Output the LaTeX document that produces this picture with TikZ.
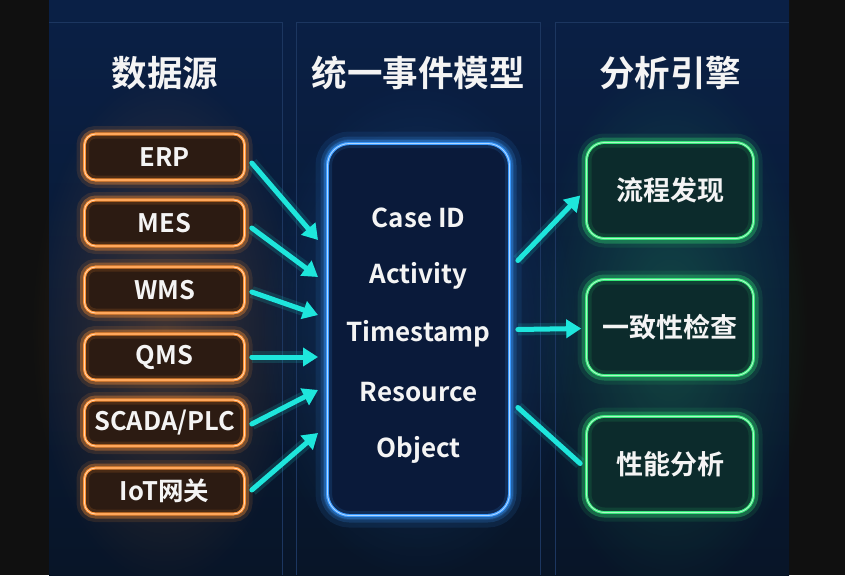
\documentclass[tikz,border=0pt]{standalone}
\usepackage{fontspec}
\setmainfont{Noto Sans CJK SC}[BoldFont={Noto Sans CJK SC Bold}]
\usetikzlibrary{arrows.meta,fadings}
\tikzfading[name=glowfade, inner color=transparent!0, outer color=transparent!100]
\definecolor{bgtop}{HTML}{0A2046}
\definecolor{bgbot}{HTML}{081528}
\definecolor{barc}{HTML}{101010}
\definecolor{panelline}{HTML}{1C3660}
\definecolor{orline}{HTML}{FF9030}
\definecolor{orfill}{HTML}{2C1B12}
\definecolor{blline}{HTML}{3A9AFF}
\definecolor{blfill}{HTML}{0A1A3A}
\definecolor{grline}{HTML}{34E878}
\definecolor{grfill}{HTML}{0C2B2C}
\definecolor{cyanarr}{HTML}{1EE6DC}
\definecolor{txt}{HTML}{F4F4F4}
\begin{document}
\begin{tikzpicture}[x=1pt,y=-1pt,
  head/.style={text=txt, font=\bfseries\fontsize{35.5}{40}\selectfont},
  srcbox/.style={rounded corners=11pt, draw=orline, fill=orfill, line width=2.6pt,
    minimum width=160pt, minimum height=46pt, text=txt, inner sep=0pt,
    font=\bfseries\fontsize{25.5}{29}\selectfont,
    preaction={draw=orline, line width=16pt, opacity=0.12},
    preaction={draw=orline, line width=9pt, opacity=0.25},
    postaction={draw=orline, line width=9pt, opacity=0.14},
    postaction={draw=orline, line width=2.6pt},
    postaction={draw=orline!40!white, line width=0.9pt}},
  modelbox/.style={rounded corners=22pt, draw=blline, fill=blfill, line width=2.8pt,
    minimum width=182pt, minimum height=372pt, inner sep=0pt,
    preaction={draw=blline, line width=24pt, opacity=0.10},
    preaction={draw=blline, line width=14pt, opacity=0.18},
    preaction={draw=blline, line width=7pt, opacity=0.32},
    postaction={draw=blline, line width=9pt, opacity=0.14},
    postaction={draw=blline, line width=2.8pt},
    postaction={draw=blline!40!white, line width=0.9pt}},
  fieldtxt/.style={text=txt, font=\bfseries\fontsize{26}{30}\selectfont},
  enginebox/.style={rounded corners=18pt, draw=grline, fill=grfill, line width=2.6pt,
    minimum width=167pt, minimum height=96pt, text=txt, inner sep=0pt,
    font=\bfseries\fontsize{27}{31}\selectfont,
    preaction={draw=grline, line width=18pt, opacity=0.10},
    preaction={draw=grline, line width=10pt, opacity=0.22},
    postaction={draw=grline, line width=10pt, opacity=0.12},
    postaction={draw=grline, line width=2.6pt},
    postaction={draw=grline!40!white, line width=0.9pt}},
  arrline/.style={draw=cyanarr, line width=5pt, line cap=round,
    preaction={draw=cyanarr, line width=12pt, opacity=0.15}},
  arr/.style={arrline, -{Triangle[length=15pt,width=18pt]}}
]
\useasboundingbox (0,0) rectangle (845,575);
% background
\fill[barc] (0,0) rectangle (845,575);
\shade[top color=bgtop, bottom color=bgbot] (49,0) rectangle (789,575);
% soft glows
\fill[orline, opacity=0.22, path fading=glowfade] (165,330) ellipse (135 and 260);
\fill[blline, opacity=0.22, path fading=glowfade] (418,330) ellipse (160 and 250);
\fill[grline, opacity=0.22, path fading=glowfade] (670,330) ellipse (140 and 270);
% panels
\draw[panelline, line width=0.8pt] (49,22) -- (282,22) -- (282,575);
\draw[panelline, line width=0.8pt] (296,575) -- (296,22) -- (540,22) -- (540,575);
\draw[panelline, line width=0.8pt] (555,575) -- (555,22) -- (789,22);
% headings
\node[head] (h1) at (165,73) {数据源};
\node[head] (h2) at (418,73) {统一事件模型};
\node[head] (h3) at (670,73) {分析引擎};
% sources
\node[srcbox] (erp) at (164.5,157) {ERP};
\node[srcbox] (mes) at (164.5,223) {MES};
\node[srcbox] (wms) at (164.5,290) {WMS};
\node[srcbox] (qms) at (164.5,357) {QMS};
\node[srcbox] (scada) at (164.5,423) {SCADA/PLC};
\node[srcbox] (iot) at (164.5,491) {IoT网关};
% model
\node[modelbox] (mid) at (418.5,329.5) {};
\node[fieldtxt] (f1) at (418.5,218) {Case ID};
\node[fieldtxt] (f2) at (418.5,276) {Activity};
\node[fieldtxt] (f3) at (418.5,334) {Timestamp};
\node[fieldtxt] (f4) at (418.5,392) {Resource};
\node[fieldtxt] (f5) at (418.5,450) {Object};
% engines
\node[enginebox] (r1) at (670,190.5) {流程发现};
\node[enginebox] (r2) at (670,327.5) {一致性检查};
\node[enginebox] (r3) at (670,464.5) {性能分析};
% input targets on the model box
\coordinate (a1) at (318,240);
\coordinate (a2) at (318,277);
\coordinate (a3) at (318,315);
\coordinate (a4) at (318,357);
\coordinate (a5) at (318,390);
\coordinate (a6) at (318,433);
\draw[arr] ([shift={(6,6)}]erp.east) -- (a1);
\draw[arr] ([shift={(6,5)}]mes.east) -- (a2);
\draw[arr] ([shift={(6,2)}]wms.east) -- (a3);
\draw[arr] ([shift={(6,0)}]qms.east) -- (a4);
\draw[arr] ([shift={(6,1)}]scada.east) -- (a5);
\draw[arr] ([shift={(6,-1)}]iot.east) -- (a6);
% outputs
\draw[arr] ([shift={(7,-69)}]mid.east) -- ([shift={(-5,5)}]r1.west);
\draw[arr] ([shift={(7,0)}]mid.east) -- ([shift={(-4,1)}]r2.west);
\draw[arrline] ([shift={(7,78)}]mid.east) -- ([shift={(-5,-1)}]r3.west);
\end{tikzpicture}
\end{document}
